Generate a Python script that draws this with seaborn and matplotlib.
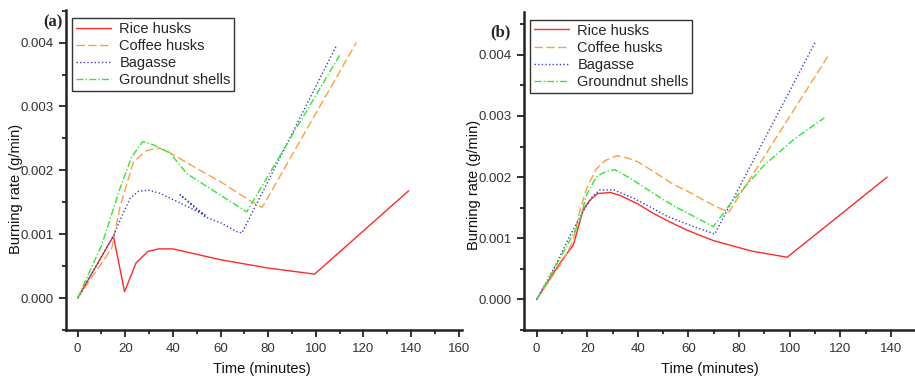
import matplotlib
matplotlib.use("Agg")
import matplotlib.pyplot as plt
from matplotlib.ticker import MultipleLocator, FormatStrFormatter
import seaborn as sns
import pandas as pd
import numpy as np

# series names, in legend order
materials = ["Rice husks", "Coffee husks", "Bagasse", "Groundnut shells"]

# ---- panel (a) : time (minutes), burning rate (x 0.001 g/min)
rice_a_t = [0, 15, 19.7, 24.5, 29.5, 34, 40, 60, 80, 99.5, 139]
rice_a = [0, 0.97, 0.10, 0.55, 0.73, 0.77, 0.77, 0.60, 0.47, 0.375, 1.68]

coffee_a_t = [0, 14.3, 17.8, 23.4, 29, 34, 38, 50, 60, 73, 77.5, 117]
coffee_a = [0, 0.78, 1.43, 2.13, 2.31, 2.35, 2.29, 2.03, 1.82, 1.51, 1.42, 4.0]

bagasse_a_t = [0, 15, 17.8, 22, 25.5, 29.7, 34.6, 43, 50, 53.5, 43, 48, 53.5, 60, 66.8, 69, 108.5]
bagasse_a = [0, 0.97, 1.22, 1.56, 1.67, 1.69, 1.64, 1.49, 1.36, 1.30, 1.62, 1.45, 1.27, 1.18, 1.04, 1.02, 3.94]

gnut_a_t = [0, 10, 17.8, 22.7, 27.3, 31.8, 38.8, 45.8, 55, 65, 71, 110]
gnut_a = [0, 0.82, 1.72, 2.21, 2.45, 2.40, 2.27, 1.95, 1.73, 1.49, 1.35, 3.80]

# ---- panel (b)
rice_b_t = [0, 6.6, 10.5, 14.5, 18.4, 21, 24, 29, 33, 40, 46, 52, 59, 65, 70, 85, 99, 138.5]
rice_b = [0, 0.43, 0.67, 0.89, 1.47, 1.62, 1.73, 1.75, 1.70, 1.56, 1.41, 1.28, 1.14, 1.04, 0.96, 0.79, 0.69, 2.0]

coffee_b_t = [0, 10.5, 14.5, 17, 19.7, 23.5, 27, 31.6, 36, 40, 47, 54, 61, 67, 72.4, 76, 115]
coffee_b = [0, 0.64, 0.97, 1.44, 1.81, 2.13, 2.27, 2.35, 2.31, 2.25, 2.07, 1.88, 1.74, 1.60, 1.49, 1.43, 3.97]

bagasse_b_t = [0, 7, 13, 18.4, 22, 25, 30.5, 38, 45, 51.5, 62, 70.4, 110]
bagasse_b = [0, 0.52, 1.03, 1.44, 1.68, 1.79, 1.79, 1.66, 1.51, 1.36, 1.19, 1.07, 4.2]

gnut_b_t = [0, 8, 15.8, 17.1, 19.8, 23.7, 27.7, 31, 37, 43, 49, 55, 62, 69.8, 77.6, 90, 102, 113.7]
gnut_b = [0, 0.58, 1.17, 1.31, 1.72, 2.01, 2.10, 2.12, 1.98, 1.82, 1.66, 1.51, 1.36, 1.19, 1.62, 2.2, 2.63, 2.97]

colors = {"Rice husks": "#ff2a2a", "Coffee husks": "#ff9f40",
          "Bagasse": "#4040c0", "Groundnut shells": "#33e633"}
dash_map = {"Rice husks": "", "Coffee husks": (6, 2.5),
            "Bagasse": (1, 1.6), "Groundnut shells": (5, 1.6, 1, 1.6)}


def make_df(series):
    frames = []
    for name, (t, r) in zip(materials, series):
        frames.append(pd.DataFrame({"time": t, "rate": np.array(r) * 1e-3, "material": name}))
    return pd.concat(frames, ignore_index=True)


df_a = make_df([(rice_a_t, rice_a), (coffee_a_t, coffee_a),
                (bagasse_a_t, bagasse_a), (gnut_a_t, gnut_a)])
df_b = make_df([(rice_b_t, rice_b), (coffee_b_t, coffee_b),
                (bagasse_b_t, bagasse_b), (gnut_b_t, gnut_b)])

sns.set_style("ticks")
plt.rcParams['font.family'] = ['Liberation Sans', 'DejaVu Sans']

fig = plt.figure(figsize=(9.15, 3.77), dpi=100)
ax_a = fig.add_axes([66 / 915, 47 / 377, 396 / 915, 320 / 377])
ax_b = fig.add_axes([524 / 915, 47 / 377, 391 / 915, 318 / 377])


def draw(ax, df, xlim, ylim):
    sns.lineplot(data=df, x="time", y="rate", hue="material", style="material",
                 hue_order=materials, style_order=materials, palette=colors,
                 dashes=dash_map, sort=False, estimator=None, linewidth=1.0, ax=ax)
    ax.set_xlim(*xlim)
    ax.set_ylim(*ylim)
    ax.xaxis.set_major_locator(MultipleLocator(20))
    ax.xaxis.set_minor_locator(MultipleLocator(10))
    ax.yaxis.set_major_locator(MultipleLocator(0.001))
    ax.yaxis.set_minor_locator(MultipleLocator(0.0005))
    ax.yaxis.set_major_formatter(FormatStrFormatter("%.3f"))
    ax.tick_params(which="major", direction="out", length=5, width=1.3,
                   labelsize=9.5, colors="#222222", labelcolor="#333333", pad=4)
    ax.tick_params(which="minor", direction="out", length=3, width=1.3, colors="#222222")
    for s in ["top", "right"]:
        ax.spines[s].set_visible(False)
    for s in ["left", "bottom"]:
        ax.spines[s].set_linewidth(1.8)
        ax.spines[s].set_color("#222222")
    ax.set_xlabel("Time (minutes)", fontsize=10.5, color="#111111")
    ax.set_ylabel("Burning rate (g/min)", fontsize=10.5, color="#111111")
    handles, labels = ax.get_legend_handles_labels()
    leg = ax.legend(handles, labels, loc="upper left", bbox_to_anchor=(0.015, 0.975),
                    borderaxespad=0, frameon=True, fancybox=False, edgecolor="#333333",
                    framealpha=1, handlelength=2.4, labelspacing=0.22, borderpad=0.25,
                    handletextpad=0.6, fontsize=10.5)
    leg.get_frame().set_linewidth(1.0)


draw(ax_a, df_a, (-4.9, 161.4), (-0.0005, 0.00451))
draw(ax_b, df_b, (-5.0, 149.5), (-0.0005, 0.0047))

ax_a.xaxis.set_label_coords(0.495, -0.1)
ax_b.xaxis.set_label_coords(0.475, -0.1)
ax_a.yaxis.set_label_coords(-0.108, 0.44)
ax_b.yaxis.set_label_coords(-0.11, 0.455)

fig.text(43 / 915, 1 - 22 / 377, "(a)", family="Liberation Serif", fontweight="bold",
         fontsize=12, va="center", ha="left")
fig.text(490 / 915, 1 - 32 / 377, "(b)", family="Liberation Serif", fontweight="bold",
         fontsize=12, va="center", ha="left")

fig.savefig("out.png", dpi=100)
